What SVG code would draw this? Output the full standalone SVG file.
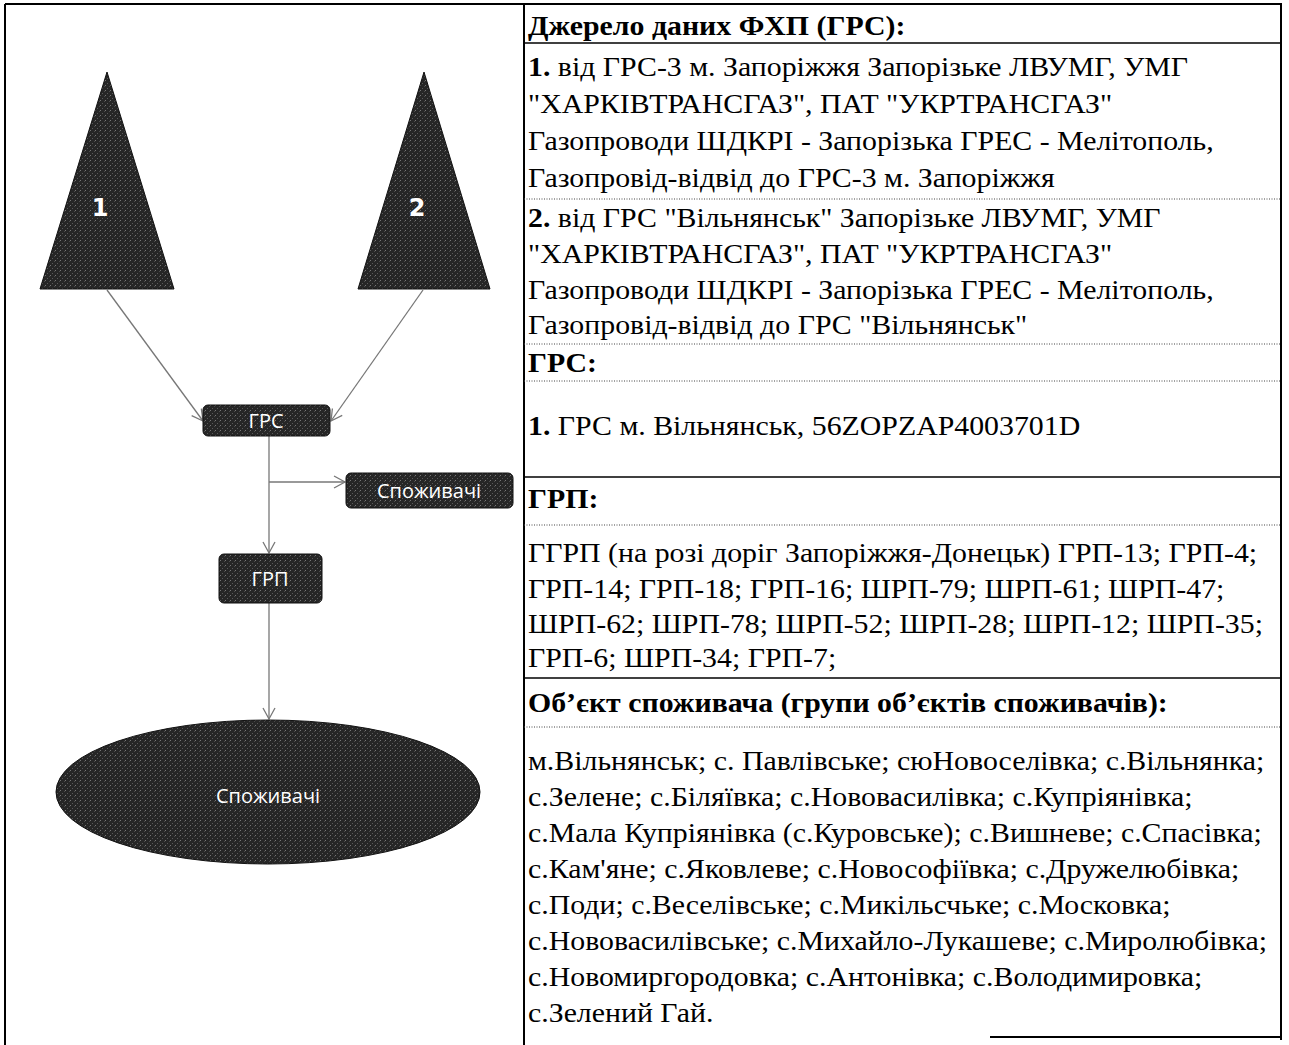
<svg xmlns="http://www.w3.org/2000/svg" width="1289" height="1045" viewBox="0 0 1289 1045">
<style>
.frame{stroke:#000;stroke-width:2;fill:none}
.solid{stroke:#000;stroke-width:1.5}
.dot{stroke:#444;stroke-width:1;stroke-dasharray:1 1.5}
.node{fill:url(#tex);stroke:#111;stroke-width:1}
.lbl{font-family:"Open Sans","DejaVu Sans",sans-serif;font-size:20px;fill:#fff;text-anchor:middle;dominant-baseline:central}
.num{font-family:"DejaVu Sans",sans-serif;font-size:24px;font-weight:bold;fill:#fff;text-anchor:middle;dominant-baseline:central}
.conn{stroke:#777;stroke-width:1.3;fill:none;marker-end:url(#arr)}
.t{font-family:"Liberation Serif","Times New Roman",serif;font-size:28px;fill:#000}
.b{font-weight:bold}
</style>
<defs>
<marker id="arr" markerUnits="userSpaceOnUse" markerWidth="14" markerHeight="14" refX="12" refY="7" orient="auto">
<path d="M1,1 L12,7 L1,13" fill="none" stroke="#777" stroke-width="1.3"/>
</marker>
<pattern id="tex" patternUnits="userSpaceOnUse" width="5" height="5">
<rect width="5" height="5" fill="#262626"/>
<rect x="0" y="0" width="1" height="1" fill="#777"/>
<rect x="2" y="3" width="1" height="1" fill="#5a5a5a"/>
<rect x="4" y="1" width="1" height="1" fill="#4a4a4a"/>
</pattern>
</defs>
<rect width="1289" height="1045" fill="#fff"/>

<g id="frame">
<line class="frame" x1="5" y1="4" x2="1282" y2="4"/>
<line class="frame" x1="5" y1="4" x2="5" y2="1045"/>
<line class="frame" x1="524" y1="4" x2="524" y2="1045"/>
<line class="frame" x1="1281" y1="4" x2="1281" y2="1040"/>
<line class="frame" x1="990" y1="1037" x2="1281" y2="1037"/>
</g>

<g id="connectors">
<line class="conn" x1="107" y1="290" x2="203" y2="421"/>
<line class="conn" x1="423" y1="290" x2="331" y2="421"/>
<line class="conn" x1="269" y1="436" x2="269" y2="553"/>
<line class="conn" x1="269" y1="482" x2="345" y2="482"/>
<line class="conn" x1="269" y1="603" x2="269" y2="719"/>
</g>

<g id="node-src1">
<polygon class="node" points="107,72 174,289 40,289"/>
<text class="num" x="100" y="208">1</text>
</g>
<g id="node-src2">
<polygon class="node" points="424,72 490,289 358,289"/>
<text class="num" x="417" y="208">2</text>
</g>
<g id="node-grs">
<rect class="node" x="203" y="405" width="127" height="31" rx="5"/>
<text class="lbl" x="266" y="420">ГРС</text>
</g>
<g id="node-cons-small">
<rect class="node" x="346" y="473" width="167" height="35" rx="5"/>
<text class="lbl" x="429" y="490">Споживачі</text>
</g>
<g id="node-grp">
<rect class="node" x="219" y="554" width="103" height="49" rx="5"/>
<text class="lbl" x="270" y="578">ГРП</text>
</g>
<g id="node-cons">
<ellipse class="node" cx="268" cy="792" rx="212" ry="72"/>
<text class="lbl" x="268" y="795">Споживачі</text>
</g>

<g id="table">
<line class="solid" x1="524" y1="43" x2="1281" y2="43"/>
<line class="dot" x1="524" y1="199" x2="1281" y2="199"/>
<line class="dot" x1="524" y1="344" x2="1281" y2="344"/>
<line class="dot" x1="524" y1="381" x2="1281" y2="381"/>
<line class="solid" x1="524" y1="477" x2="1281" y2="477"/>
<line class="dot" x1="524" y1="525" x2="1281" y2="525"/>
<line class="solid" x1="524" y1="678" x2="1281" y2="678"/>
<line class="dot" x1="524" y1="727" x2="1281" y2="727"/>
<g transform="translate(528 0) scale(1.066 1) translate(-528 0)">
<text class="t b" x="528" y="35">Джерело даних ФХП (ГРС):</text>
<text class="t" x="528" y="76"><tspan class="b">1.</tspan> від ГРС-3 м. Запоріжжя Запорізьке ЛВУМГ, УМГ</text>
<text class="t" x="528" y="113">"ХАРКІВТРАНСГАЗ", ПАТ "УКРТРАНСГАЗ"</text>
<text class="t" x="528" y="150">Газопроводи ШДКРІ - Запорізька ГРЕС - Мелітополь,</text>
<text class="t" x="528" y="187">Газопровід-відвід до ГРС-3 м. Запоріжжя</text>
<text class="t" x="528" y="227"><tspan class="b">2.</tspan> від ГРС "Вільнянськ" Запорізьке ЛВУМГ, УМГ</text>
<text class="t" x="528" y="263">"ХАРКІВТРАНСГАЗ", ПАТ "УКРТРАНСГАЗ"</text>
<text class="t" x="528" y="299">Газопроводи ШДКРІ - Запорізька ГРЕС - Мелітополь,</text>
<text class="t" x="528" y="334">Газопровід-відвід до ГРС "Вільнянськ"</text>
<text class="t b" x="528" y="372">ГРС:</text>
<text class="t" x="528" y="435"><tspan class="b">1.</tspan> ГРС м. Вільнянськ, 56ZOPZAP4003701D</text>
<text class="t b" x="528" y="508">ГРП:</text>
<text class="t" x="528" y="562">ГГРП (на розі доріг Запоріжжя-Донецьк) ГРП-13; ГРП-4;</text>
<text class="t" x="528" y="598">ГРП-14; ГРП-18; ГРП-16; ШРП-79; ШРП-61; ШРП-47;</text>
<text class="t" x="528" y="633">ШРП-62; ШРП-78; ШРП-52; ШРП-28; ШРП-12; ШРП-35;</text>
<text class="t" x="528" y="667">ГРП-6; ШРП-34; ГРП-7;</text>
<text class="t b" x="528" y="712">Об’єкт споживача (групи об’єктів споживачів):</text>
<text class="t" x="528" y="770">м.Вільнянськ; с. Павлівське; сюНовоселівка; с.Вільнянка;</text>
<text class="t" x="528" y="806">с.Зелене; с.Біляївка; с.Нововасилівка; с.Купріянівка;</text>
<text class="t" x="528" y="842">с.Мала Купріянівка (с.Куровське); с.Вишневе; с.Спасівка;</text>
<text class="t" x="528" y="878">с.Кам'яне; с.Яковлеве; с.Новософіївка; с.Дружелюбівка;</text>
<text class="t" x="528" y="914">с.Поди; с.Веселівське; с.Микільсчьке; с.Московка;</text>
<text class="t" x="528" y="950">с.Нововасилівське; с.Михайло-Лукашеве; с.Миролюбівка;</text>
<text class="t" x="528" y="986">с.Новомиргородовка; с.Антонівка; с.Володимировка;</text>
<text class="t" x="528" y="1022">с.Зелений Гай.</text>
</g>
</g>
</svg>
